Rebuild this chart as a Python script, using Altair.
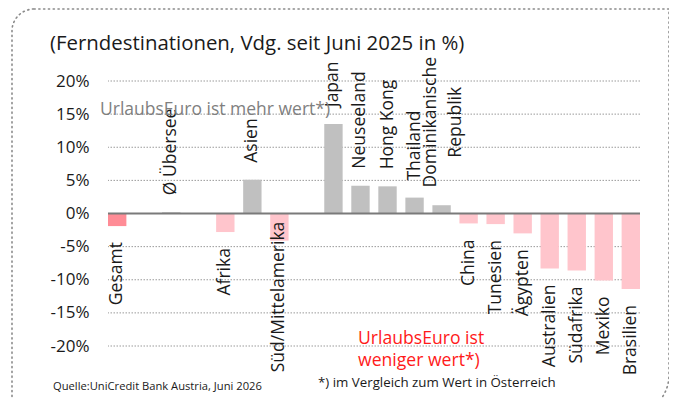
import altair as alt
import pandas as pd

# ---- data ----
categories = ["Gesamt", "Ø Übersee", "Afrika", "Asien", "Süd/Mittelamerika",
              "Japan", "Neuseeland", "Hong Kong", "Thailand", "Dominikanische Republik",
              "China", "Tunesien", "Ägypten", "Australien", "Südafrika", "Mexiko", "Brasilien"]
labels = ["Gesamt", "Ø Übersee", "Afrika", "Asien", "Süd/Mittelamerika",
          "Japan", "Neuseeland", "Hong Kong", "Thailand", "Dominikanische\nRepublik",
          "China", "Tunesien", "Ägypten", "Australien", "Südafrika", "Mexiko", "Brasilien"]
values = [-1.9, 0.2, -2.8, 5.1, -4.1, 13.5, 4.2, 4.1, 2.4, 1.25,
          -1.5, -1.6, -3.0, -8.3, -8.6, -10.1, -11.4]
# order on the x axis, with empty slots as gaps
x_order = ["Gesamt", " ", "Ø Übersee", "  ", "Afrika", "Asien", "Süd/Mittelamerika", "   ",
           "Japan", "Neuseeland", "Hong Kong", "Thailand", "Dominikanische Republik",
           "China", "Tunesien", "Ägypten", "Australien", "Südafrika", "Mexiko", "Brasilien"]
y_ticks = [-20, -15, -10, -5, 0, 5, 10, 15, 20]

title_text = "(Ferndestinationen, Vdg. seit Juni 2025 in %)"
note_up = "UrlaubsEuro ist mehr wert*)"
note_down = ["UrlaubsEuro ist", "weniger wert*)"]
source_text = "Quelle:UniCredit Bank Austria, Juni 2026"
footnote_text = "*) im Vergleich zum Wert in Österreich"

groups = ["Gesamt" if c == "Gesamt" else ("positiv" if v >= 0 else "negativ")
          for c, v in zip(categories, values)]
df = pd.DataFrame({"cat": categories, "label": labels, "value": values, "group": groups})

FONT = "Open Sans"
W, H = 532, 265

yscale = alt.Scale(domain=[-20, 20], nice=False)
yaxis = alt.Axis(values=y_ticks, labelExpr="datum.value + '%'", title=None,
                 domain=False, ticks=False, labelPadding=19, labelFontSize=17,
                 labelFont=FONT, labelColor="#1a1a1a", labelOverlap=False,
                 labelFlush=False, labelBound=False, grid=False)

x = alt.X("cat:N", scale=alt.Scale(domain=x_order, paddingInner=0.32, paddingOuter=0.0), axis=None)
y = alt.Y("value:Q", scale=yscale, axis=yaxis)

base = alt.Chart(df)

grid = alt.Chart(pd.DataFrame({"value": y_ticks})).mark_rule(
    color="#9a9a9a", strokeWidth=1, strokeDash=[1.5, 1.5]
).encode(y=alt.Y("value:Q", scale=yscale, axis=yaxis))

bars = base.mark_bar().encode(
    x=x, y=y, y2=alt.datum(0),
    color=alt.Color("group:N", scale=alt.Scale(domain=["Gesamt", "positiv", "negativ"],
                                              range=["#ff8c96", "#c0c0c0", "#ffc5cc"]),
                    legend=None),
)

zero = alt.Chart(pd.DataFrame({"value": [0]})).mark_rule(color="#7a7a7a", strokeWidth=2).encode(
    y=alt.Y("value:Q", scale=yscale, axis=yaxis)
)

txt = dict(angle=270, baseline="middle", fontSize=17.5, font=FONT, color="#1a1a1a")
pos_lbl = base.transform_filter(
    "datum.value >= 0 && datum.cat != 'Dominikanische Republik'"
).mark_text(align="left", dx=17, **txt).encode(x=x, y=y, text="label:N")
neg_lbl = base.transform_filter(
    "datum.value < 0 && datum.cat != 'Süd/Mittelamerika'"
).mark_text(align="right", dx=-16, **txt).encode(x=x, y=y, text="label:N")
sm_lbl = base.transform_filter(
    "datum.cat == 'Süd/Mittelamerika'"
).mark_text(align="right", dx=19, **txt).encode(x=x, y=y, text="label:N")
dom_lbl = base.transform_filter(
    "datum.cat == 'Dominikanische Republik'"
).mark_text(align="center", dx=83, dy=-11, lineBreak="\n", lineHeight=25, **txt).encode(
    x=x, y=y, text="label:N")

one = pd.DataFrame({"a": [0]})
def ann(text, px, py, size, color="#1a1a1a", align="left"):
    return alt.Chart(one).mark_text(text=text, align=align, baseline="alphabetic",
                                    fontSize=size, font=FONT, color=color).encode(
        x=alt.value(px), y=alt.value(py))

title = ann(title_text, -58, -31, 20.4)
up = ann(note_up, -8, 34, 17.5, color="#7f7f7f")
down1 = ann(note_down[0], 250, 263, 17.6, color="#ff1a1a")
down2 = ann(note_down[1], 250, 285, 17.6, color="#ff1a1a")
src = ann(source_text, -55, 309, 11.2)
foot = ann(footnote_text, 210, 306, 13.3)

border = alt.Chart(one).mark_rect(
    filled=False, stroke="#8a8a8a", strokeWidth=1.6, strokeDash=[1.2, 3.6],
    strokeCap="round", cornerRadiusTopLeft=22, cornerRadiusBottomRight=40,
).encode(x=alt.value(-96), x2=alt.value(561), y=alt.value(-72), y2=alt.value(334))

chart = alt.layer(
    border, grid, bars, zero, pos_lbl, neg_lbl, sm_lbl, dom_lbl,
    title, up, down1, down2, src, foot
).properties(
    width=W, height=H,
    padding={"left": 100, "top": 73, "right": 29, "bottom": 52},
    autosize=alt.AutoSizeParams(type="none"),
    background="white",
).configure_view(stroke=None)

chart.save("out.html", embed_options={"renderer": "svg", "actions": False})
